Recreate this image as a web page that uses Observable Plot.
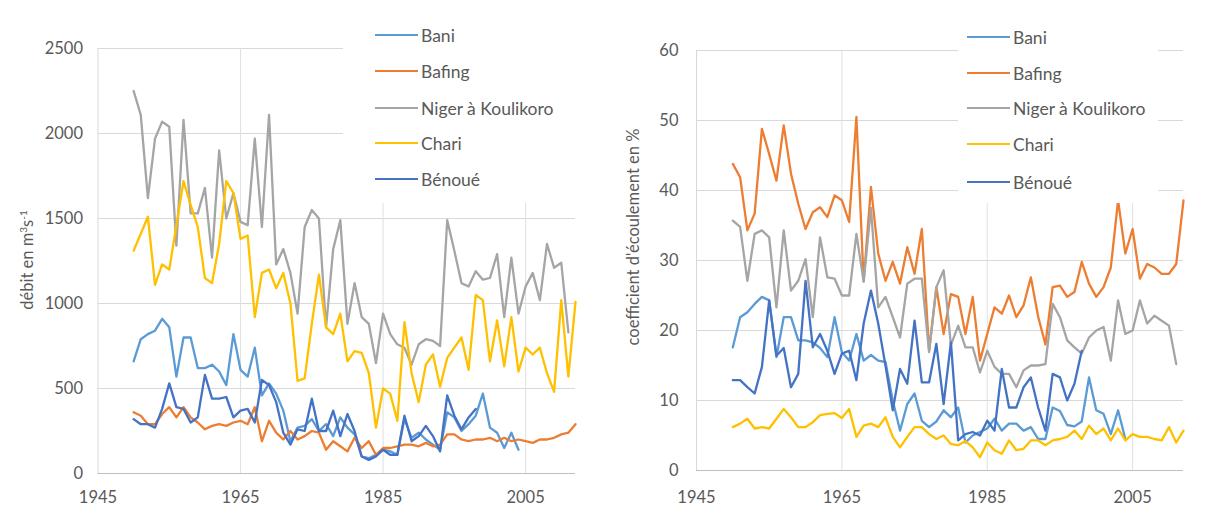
<!DOCTYPE html>
<html><head><meta charset="utf-8">
<script src="https://cdn.jsdelivr.net/npm/d3@7"></script>
<script src="https://cdn.jsdelivr.net/npm/@observablehq/plot@0.6"></script>
<style>
body{margin:0;background:#fff;}
#wrap{position:relative;width:1206px;height:508px;overflow:hidden;font-family:Lato,"Open Sans",sans-serif;color:#595959;}
.panel{position:absolute;top:0;}
.legend{position:absolute;background:#fff;}
.item{position:absolute;left:0;height:20px;display:flex;align-items:center;font-size:17.5px;white-space:nowrap;}
.sw{display:inline-block;width:43px;height:2.5px;margin-right:3px;}
.ytitle{position:absolute;transform:translate(-50%,-50%) rotate(-90deg);font-size:16.5px;white-space:nowrap;}
.ytitle sup{font-size:10px;}
</style></head>
<body><div id="wrap"></div>
<script>
// ---- data ----
const seriesNames = ["Bani", "Bafing", "Niger à Koulikoro", "Chari", "Bénoué"];
const seriesColors = ["#5B9BD5", "#ED7D31", "#A5A5A5", "#FFC000", "#4472C4"];
const firstYear = 1950;
const xTickLabels = [1945, 1965, 1985, 2005];
const yTicksDebit = [0, 500, 1000, 1500, 2000, 2500];
const yTicksCoef = [0, 10, 20, 30, 40, 50, 60];

// débit (m3/s), one value per year from 1950
const debitBani = [660,790,820,840,910,860,570,800,800,620, 620,640,600,520,820,610,570,740,460,530, 470,370,190,270,280,320,250,290,220,330, 270,230,100,90,110,140,130,110,320,210, 240,200,170,140,360,330,250,290,340,470, 270,240,150,240,140];
const debitBafing = [360,340,290,290,350,390,330,390,330,300, 260,280,290,280,300,310,290,390,190,310, 240,200,250,200,220,250,240,140,190,160, 130,210,150,190,110,150,150,160,170,170, 160,180,160,170,230,230,200,190,200,200, 210,190,210,190,200,190,180,200,200,210, 230,240,290];
const debitNiger = [2250,2110,1620,1970,2070,2040,1340,2080,1530,1530, 1680,1270,1900,1500,1650,1480,1460,1970,1450,2110, 1230,1320,1180,940,1450,1550,1500,860,1320,1490, 880,1120,920,880,650,940,820,760,740,640, 760,790,780,750,1490,1310,1120,1100,1190,1140, 1150,1290,920,1270,940,1100,1180,1020,1350,1210, 1240,830];
const debitChari = [1310,1410,1510,1110,1230,1200,1460,1720,1580,1450, 1150,1120,1350,1720,1650,1380,1400,920,1180,1200, 1090,1180,1000,545,560,880,1170,860,820,940, 660,720,710,590,270,500,470,310,890,590, 420,640,700,510,680,740,800,610,1050,1020, 660,900,630,920,600,740,700,740,590,480, 1020,570,1010];
const debitBenoue = [320,290,290,270,380,530,390,380,300,330, 580,440,440,450,330,370,380,300,550,520, 420,240,170,260,250,440,250,250,370,220, 350,250,100,80,100,140,110,110,340,190, 220,280,220,130,460,340,260,330,380];

// coefficient d'écoulement (%), one value per year from 1950
const coefBani = [17.6,21.9,22.6,23.8,24.8,24.3,16.2,21.9,21.9,18.6, 18.6,18.3,17.5,16.2,21.9,16.9,15.7,19.5,15.7,16.5, 15.7,15.5,10,5.7,9.5,11,7.1,6.2,7,8.6, 7.6,9,4,5,5.5,6,7.4,5.7,6.7,6.7, 5.7,6.2,4.5,4.5,9,8.5,6.5,6.3,7,13.3, 8.6,8.1,5.2,8.6,4.5];
const coefBafing = [43.8,41.9,34.3,36.7,48.8,45.2,41.4,49.3,42.4,38.1, 34.5,36.9,37.6,36.2,39.3,38.6,35.5,50.5,27,40.5, 31,27.1,29.8,26.7,31.9,28.1,34.5,17.1,26.2,19.5, 25.2,24.8,19.5,24.8,15.7,19.5,23.3,22.4,25,21.9, 23.6,27.6,22,18,26.2,26.4,24.8,25.5,29.8,26.7, 24.8,26.2,29,38.6,31,34.5,27.4,29.5,29,28.1, 28.1,29.5,38.6];
const coefNiger = [35.7,34.8,27.1,33.8,34.3,33.3,23.3,34.3,25.7,27.1, 30.2,21.9,33.3,27.6,27.4,25,25,33.8,27,37.5, 23.3,24.8,21.9,19,26.7,27.4,27.4,16.9,26.2,28.6, 17.9,20.7,17.6,17.6,14,17.1,14.8,13.8,13.8,11.9, 14.3,15,15,15.2,23.8,21.9,18.6,17.6,16.7,19, 20,20.5,15.7,24.3,19.5,20,24.3,21,22.1,21.4, 20.7,15.2];
const coefChari = [6.2,6.7,7.4,6,6.2,6,7.4,8.8,7.6,6.2, 6.2,6.9,7.9,8.1,8.2,7.5,8.8,4.8,6.4,6.7, 6.2,7.6,4.8,3.3,4.8,6.2,6.2,5.2,4.5,5, 3.8,3.6,4.2,3.3,1.9,4,2.9,2.4,4.3,2.9, 3.1,4.3,4.3,3.6,4.3,4.5,4.8,5.7,4.5,6.4, 5.2,6,4.3,6,4.3,5.2,4.8,4.8,4.5,4.3, 6.2,4,5.7];
const coefBenoue = [12.9,12.9,11.9,11,14.8,24.3,16.4,17.5,11.9,13.8, 27.1,17.6,19.5,17.1,13.8,16.7,17.1,12.9,21,25.7, 21,15,8.6,14.5,12.4,21.4,12.6,12.6,18.1,9.5, 18.3,4.3,5.2,5.5,5,7.1,5.7,14.5,9,9, 11.9,13.3,9,5.7,13.8,13.3,10,12.4,17.1];

const debitSeries = [debitBani, debitBafing, debitNiger, debitChari, debitBenoue];
const coefSeries = [coefBani, coefBafing, coefNiger, coefChari, coefBenoue];

const FONT = 'Lato, "Open Sans", sans-serif';
const toRows = arr => arr.map((v, i) => ({year: firstYear + i, value: v}));

function panel(seriesArr, yTicks, o) {
  const lines = seriesArr.map((arr, k) =>
    Plot.line(toRows(arr), {x: "year", y: "value", stroke: seriesColors[k], strokeWidth: 2.3, strokeLinejoin: "round"}));
  return Plot.plot({
    width: o.width, height: 508,
    marginLeft: o.ml, marginRight: o.mr, marginTop: o.mt, marginBottom: o.mb,
    x: {domain: [1945, 2012]},
    y: {domain: [yTicks[0], yTicks[yTicks.length - 1]]},
    style: {fontFamily: FONT, fontSize: "16.5px", color: "#595959", background: "transparent", overflow: "visible"},
    marks: [
      Plot.gridY(yTicks.slice(1), {stroke: "#d9d9d9", strokeOpacity: 1}),
      Plot.gridX(xTickLabels.slice(1), {stroke: "#e0e0e0", strokeOpacity: 1}),
      Plot.ruleX([1945], {stroke: "#d9d9d9"}),
      Plot.ruleY([yTicks[0]], {stroke: "#bfbfbf"}),
      Plot.axisY(yTicks, {tickSize: 0, tickPadding: o.yp, label: null, tickFormat: d => String(d)}),
      Plot.axisX(xTickLabels, {tickSize: 0, tickPadding: o.xp, label: null, tickFormat: d => String(d)}),
      ...lines
    ]
  });
}

const wrap = document.getElementById("wrap");
function place(el, left) { el.classList.add("panel"); el.style.left = left + "px"; wrap.appendChild(el); }

place(panel(debitSeries, yTicksDebit, {width: 600, ml: 97.5, mr: 25, mt: 48, mb: 35, yp: 15, xp: 18}), 0);
place(panel(coefSeries, yTicksCoef, {width: 606, ml: 96, mr: 23, mt: 50, mb: 38, yp: 18, xp: 21}), 600);

function legend(x, y, w, h, lineX, rows) {
  const box = document.createElement("div");
  box.className = "legend";
  Object.assign(box.style, {left: x + "px", top: y + "px", width: w + "px", height: h + "px"});
  seriesNames.forEach((name, k) => {
    const it = document.createElement("div");
    it.className = "item";
    it.style.left = (lineX - x) + "px";
    it.style.top = (rows[k] - y - 10) + "px";
    const sw = document.createElement("span");
    sw.className = "sw"; sw.style.background = seriesColors[k];
    it.appendChild(sw);
    it.appendChild(document.createTextNode(name));
    box.appendChild(it);
  });
  wrap.appendChild(box);
}
legend(343, 15, 240, 188, 375, [35, 71, 108, 143, 179]);
legend(958, 15, 200, 188, 967, [37, 73, 108, 144, 182]);

function ytitle(html, cx, cy) {
  const d = document.createElement("div");
  d.className = "ytitle"; d.innerHTML = html;
  d.style.left = cx + "px"; d.style.top = cy + "px";
  wrap.appendChild(d);
}
ytitle("débit en m<sup>3</sup>s<sup>-1</sup>", 27, 260);
ytitle("coefficient d'écoulement en %", 633, 237);
</script></body></html>
